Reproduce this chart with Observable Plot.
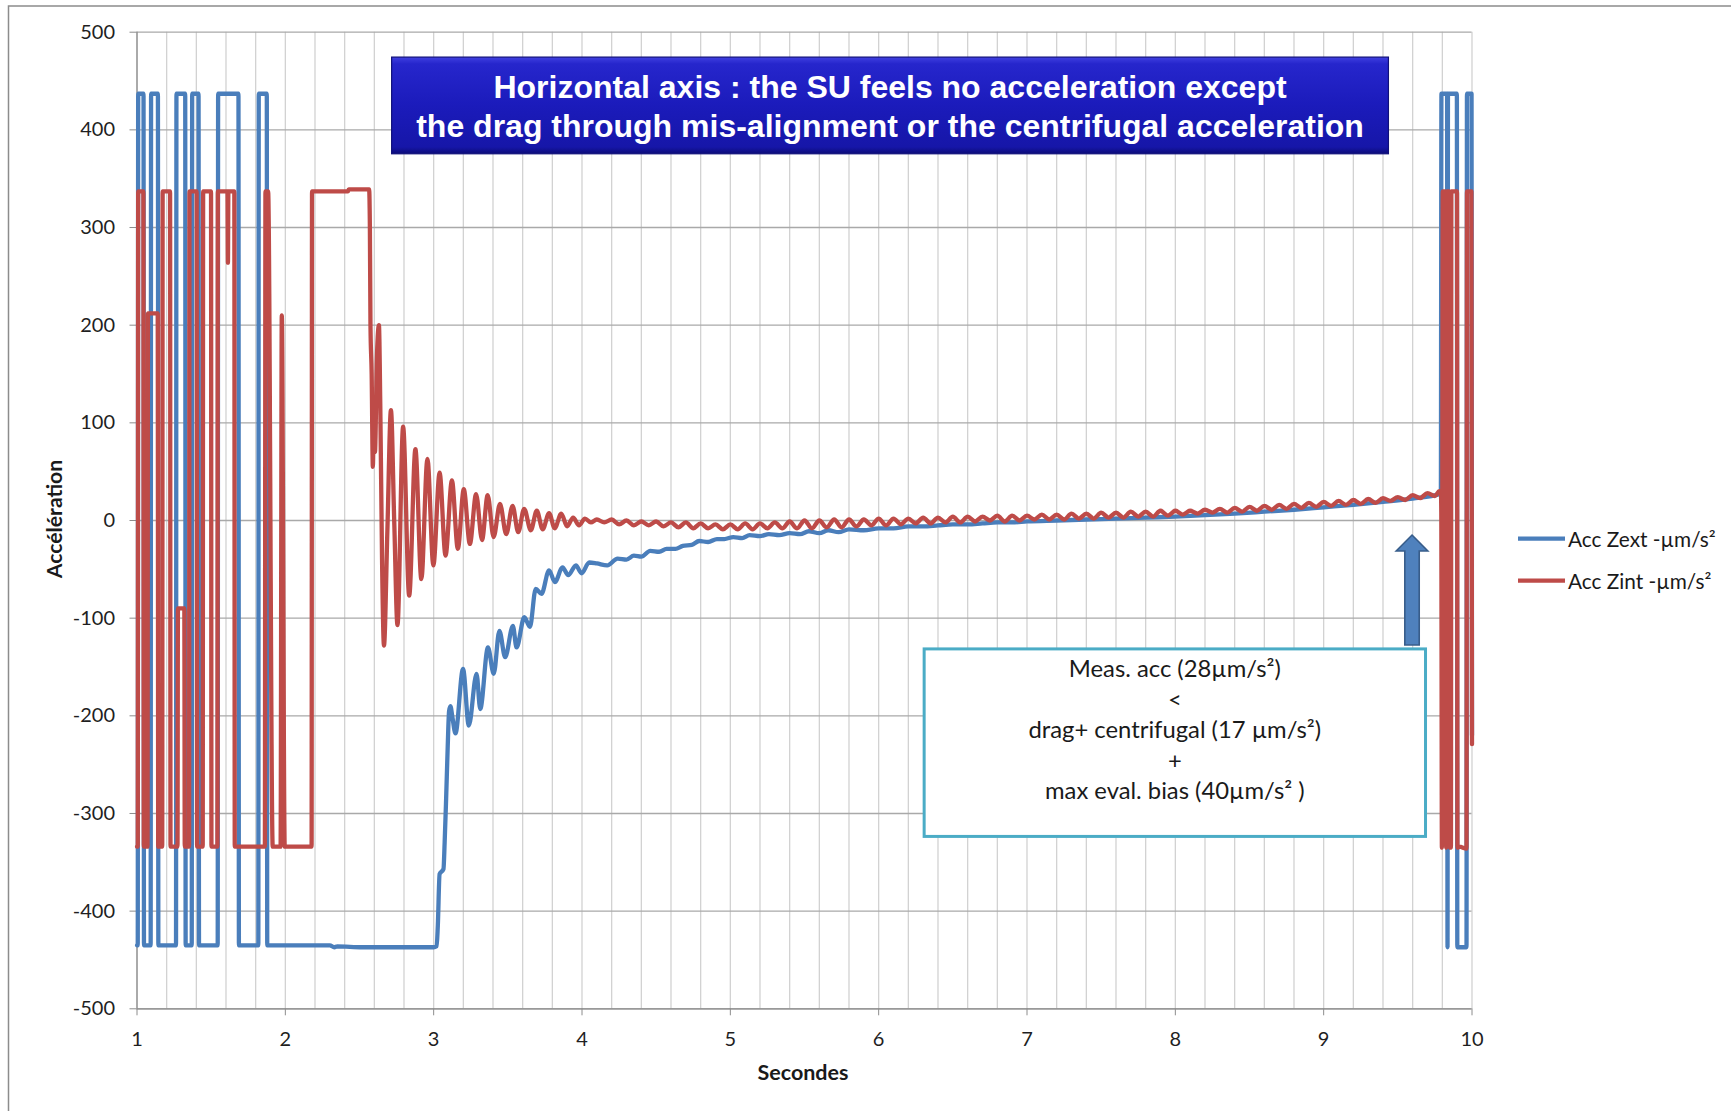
<!DOCTYPE html>
<html>
<head>
<meta charset="utf-8">
<script src="https://cdn.jsdelivr.net/npm/d3@7"></script>
<script src="https://cdn.jsdelivr.net/npm/@observablehq/plot@0.6"></script>
<style>
  html, body { margin: 0; padding: 0; background: #ffffff; }
  #chart svg { display: block; }
</style>
</head>
<body>
<div id="chart"></div>
<script>
// ---------- DATA ----------
const seriesNames = ["Acc Zext -µm/s²", "Acc Zint -µm/s²"];
const xTickValues = [1, 2, 3, 4, 5, 6, 7, 8, 9, 10];
const yTickValues = [-500, -400, -300, -200, -100, 0, 100, 200, 300, 400, 500];

// Acc Zext: square-wave switching phase [time s, value µm/s²]
const zextSwitching = [
  [1.000,-435],[1.005,-435],[1.008,437],[1.044,437],[1.047,-435],[1.092,-435],[1.095,437],
  [1.141,437],[1.144,-435],[1.263,-435],[1.266,437],[1.325,437],[1.328,-435],[1.369,-435],
  [1.372,437],[1.415,437],[1.418,-435],[1.544,-435],[1.547,437],[1.684,437],[1.687,-435],
  [1.818,-435],[1.821,437],[1.875,437],[1.878,-435],[2.300,-435],[2.330,-437],[2.350,-436],
  [2.520,-437],[3.000,-437],[3.020,-436]
];
// Acc Zext: recovery after release
const zextRecovery = [
  [3.028,-415],[3.040,-362],[3.066,-357],[3.074,-330],[3.084,-285],[3.094,-235],[3.104,-195],
  [3.113,-190],[3.125,-200],[3.147,-218],[3.198,-152],[3.237,-210],[3.289,-157],[3.314,-193],
  [3.366,-130],[3.405,-157],[3.443,-113],[3.482,-140],[3.534,-108],[3.559,-130],[3.611,-99],
  [3.649,-109],[3.688,-70],[3.727,-75],[3.778,-51],[3.817,-63],[3.869,-48],[3.907,-56],
  [3.959,-46],[3.997,-54],[4.049,-43]
];
// Acc Zext: slow drift
const zextTail = [
  [4.10,-44],[4.17,-46],[4.24,-39],[4.30,-40],[4.35,-36],[4.40,-37],[4.46,-31],[4.52,-32],
  [4.57,-29],[4.63,-29],[4.68,-26],[4.74,-25],[4.79,-21],[4.85,-22],[4.91,-19],[4.96,-19],
  [5.02,-17],[5.08,-18],[5.13,-15],[5.20,-16],[5.26,-14],[5.33,-15],[5.40,-13],[5.47,-14],
  [5.53,-11],[5.60,-13],[5.66,-10],[5.73,-12],[5.80,-9],[5.90,-10],[6.00,-8],[6.10,-8],
  [6.20,-6],[6.30,-6],[6.40,-5],[6.50,-4],[6.60,-4],[6.70,-3],[6.80,-2],[6.90,-2],[7.00,-1],
  [7.20,0],[7.40,1],[7.60,2],[7.80,3],[8.00,4],[8.20,5.5],[8.40,7],[8.60,9],[8.80,11],
  [9.00,13.5],[9.20,16],[9.40,19],[9.60,22.5],[9.78,27]
];
// Acc Zext: final switching
const zextEnd = [
  [9.790,28],[9.794,437],[9.832,437],[9.835,-437],[9.838,437],[9.898,437],[9.901,-437],
  [9.963,-437],[9.966,437],[9.997,437],[10.000,-220]
];

// Acc Zint: square-wave switching phase
const zintSwitching = [
  [1.000,-334],[1.005,-334],[1.008,337],[1.043,337],[1.046,-334],[1.071,-334],[1.074,212],
  [1.140,212],[1.143,-334],[1.170,-334],[1.173,337],[1.223,337],[1.226,-334],[1.273,-334],
  [1.276,-90],[1.319,-90],[1.322,-334],[1.351,-334],[1.354,337],[1.402,337],[1.405,-334],
  [1.443,-334],[1.446,337],[1.499,337],[1.502,-334],[1.542,-334],[1.545,337],[1.610,337],
  [1.613,264],[1.616,337],[1.656,337],[1.659,-334],[1.862,-334],[1.866,337],[1.884,337],
  [1.915,-334],[1.968,-334],[1.976,210],[1.996,-334],[2.177,-334],[2.180,337],[2.422,337],
  [2.427,339],[2.565,339]
];
// Acc Zint: damped ringing
const zintRinging = [
  [2.570,300],[2.574,200],[2.582,150],[2.590,55],[2.598,120],[2.604,70],[2.618,170],
  [2.631,200],[2.640,120],[2.652,-40],[2.665,-128],[2.688,-10],[2.712,113],[2.734,0],
  [2.756,-107],[2.794,96],[2.835,-77],[2.877,73],[2.917,-60],[2.958,63],[2.998,-46],
  [3.040,49],[3.080,-36],[3.123,41],[3.163,-29],[3.203,32],[3.244,-24],[3.286,27],
  [3.326,-20],[3.364,26],[3.404,-17],[3.447,17],[3.489,-14],[3.532,15],[3.570,-12],
  [3.610,12],[3.655,-10],[3.695,10],[3.735,-9],[3.778,7.5],[3.816,-8],[3.860,7],[3.900,-6],
  [3.940,3],[3.980,-5],[4.020,2],[4.060,-2]
];
// Acc Zint: residual wiggle and drift
const zintTail = [
  [4.10,1],[4.15,-2],[4.20,1],[4.25,-4],[4.30,0],[4.35,-5],[4.40,-1],[4.45,-5],[4.50,-1],
  [4.55,-6],[4.60,-2],[4.65,-7],[4.70,-2],[4.75,-8],[4.80,-3],[4.85,-8],[4.90,-4],[4.95,-9],
  [5.00,-4],[5.05,-9],[5.10,-3],[5.15,-9],[5.20,-3],[5.25,-8],[5.30,-2],[5.35,-8],[5.40,-1],
  [5.45,-8],[5.50,0],[5.55,-8],[5.60,0],[5.65,-7],[5.70,1],[5.75,-7],[5.80,1],[5.85,-6],
  [5.90,1],[5.95,-5],[6.00,2],[6.05,-5],[6.10,2],[6.15,-4],[6.20,2],[6.25,-3],[6.30,3],
  [6.35,-3],[6.40,3],[6.45,-2],[6.50,4],[6.55,-2],[6.60,4],[6.65,-1],[6.70,4],[6.75,0],
  [6.80,5],[6.85,-1],[6.90,5],[6.95,0],[7.00,5],[7.05,1],[7.10,6],[7.15,1],[7.20,6],[7.25,1],
  [7.30,7],[7.35,2],[7.40,7],[7.45,2],[7.50,8],[7.55,3],[7.60,8],[7.65,3],[7.70,9],[7.75,4],
  [7.80,9],[7.85,4],[7.90,10],[7.95,5],[8.00,10],[8.05,6],[8.10,10],[8.15,7],[8.20,11],
  [8.25,8],[8.30,12],[8.35,8],[8.40,13],[8.45,9],[8.50,14],[8.55,10],[8.60,15],[8.65,11],
  [8.70,16],[8.75,12],[8.80,17],[8.85,13],[8.90,18],[8.95,14],[9.00,19],[9.05,15],[9.10,20],
  [9.15,16],[9.20,21],[9.25,17],[9.30,22],[9.35,18],[9.40,23],[9.45,20],[9.50,24],[9.55,21],
  [9.60,26],[9.65,23],[9.70,28],[9.75,25],[9.78,30]
];
// Acc Zint: final switching
const zintEnd = [
  [9.790,30],[9.793,8],[9.797,-335],[9.803,337],[9.820,337],[9.826,-335],[9.832,337],
  [9.845,337],[9.851,-335],[9.858,-335],[9.861,337],[9.899,337],[9.902,-335],[9.915,-334],
  [9.963,-336],[9.966,337],[9.996,337],[10.000,-229]
];

// Annotation texts
const titleLines = [
  "Horizontal axis : the SU feels no acceleration except",
  "the drag through mis-alignment or the centrifugal acceleration"
];
const noteLines = [
  "Meas. acc (28µm/s²)",
  "<",
  "drag+ centrifugal (17 µm/s²)",
  "+",
  "max eval. bias (40µm/s² )"
];

// ---------- LAYOUT / STYLE ----------
const W = 1731, H = 1111;
const colors = ["#4a7ebb", "#be4b48"];
const titleBox = {t1: 2.72, t2: 9.44, v1: 474, v2: 375};
const noteBox = {t1: 6.31, t2: 9.69, v1: -132, v2: -324};
const arrowAnchor = {t: 9.599, tip: -15.4, headBase: -31.7, tail: -128};

const toRows = (pairs) => pairs.map(([t, v]) => ({t, v}));
const zext = toRows([...zextSwitching, ...zextRecovery, ...zextTail, ...zextEnd]);
const zint = toRows([...zintSwitching, ...zintRinging, ...zintTail, ...zintEnd]);

const xGrid = d3.range(0, 46).map(i => 1 + i * 0.2);

const lineOpts = {x: "t", y: "v", strokeWidth: 4.3, curve: "monotone-x",
                  strokeLinejoin: "round", strokeLinecap: "round"};

const chart = Plot.plot({
  width: W,
  height: H,
  marginLeft: 136.5,
  marginRight: 259.5,
  marginTop: 31.7,
  marginBottom: 102.7,
  x: {domain: [1, 10]},
  y: {domain: [-500, 500]},
  style: {fontFamily: "Lato, sans-serif", fontSize: "20px", color: "#1f1f1f", background: "#ffffff"},
  marks: [
    Plot.gridX({ticks: xGrid, stroke: "#d2d2d2", strokeOpacity: 1, strokeWidth: 1.3}),
    Plot.gridY({ticks: yTickValues, stroke: "#a9a9a9", strokeOpacity: 1, strokeWidth: 1.3}),
    Plot.ruleY([-500], {stroke: "#8c8c8c", strokeWidth: 1.3}),
    Plot.ruleX([1], {stroke: "#8c8c8c", strokeWidth: 1.3}),
    Plot.axisY({ticks: yTickValues, tickSize: 7, tickPadding: 15, stroke: "#8c8c8c", fill: "#1f1f1f",
                label: null, tickFormat: (d) => String(d)}),
    Plot.axisX({ticks: xTickValues, tickSize: 7, tickPadding: 16, stroke: "#8c8c8c", fill: "#1f1f1f",
                label: null, tickFormat: (d) => String(d)}),
    Plot.line(zext, {...lineOpts, stroke: colors[0]}),
    Plot.line(zint, {...lineOpts, stroke: colors[1]})
  ]
});

document.getElementById("chart").appendChild(chart);

// ---------- OVERLAYS (positioned through the chart's scales) ----------
const sx = chart.scale("x"), sy = chart.scale("y");
const X = (t) => sx.apply(t), Y = (v) => sy.apply(v);
const svg = d3.select(chart);

// outer chart-area border
svg.append("rect").attr("x", 8.5).attr("y", 6).attr("width", 1800).attr("height", 1300)
  .attr("fill", "none").attr("stroke", "#8c8c8c").attr("stroke-width", 1.5);

const defs = svg.append("defs");
const g = defs.append("linearGradient").attr("id", "titleFill").attr("x1", 0).attr("y1", 0).attr("x2", 0).attr("y2", 1);
g.append("stop").attr("offset", "0%").attr("stop-color", "#4040e0");
g.append("stop").attr("offset", "7%").attr("stop-color", "#2626cc");
g.append("stop").attr("offset", "50%").attr("stop-color", "#1b1bbb");
g.append("stop").attr("offset", "93%").attr("stop-color", "#1616a8");
g.append("stop").attr("offset", "100%").attr("stop-color", "#0c0c78");

// title box
const tbx = X(titleBox.t1), tby = Y(titleBox.v1);
const tbw = X(titleBox.t2) - tbx, tbh = Y(titleBox.v2) - tby;
svg.append("rect").attr("x", tbx).attr("y", tby).attr("width", tbw).attr("height", tbh)
  .attr("fill", "url(#titleFill)").attr("stroke", "#10107a").attr("stroke-width", 1.2);
const tt = svg.append("text").attr("text-anchor", "middle")
  .attr("font-family", "'Liberation Sans', Arial, sans-serif").attr("font-weight", "bold")
  .attr("font-size", 32).attr("fill", "#ffffff");
titleLines.forEach((s, i) => {
  tt.append("tspan").attr("x", tbx + tbw / 2).attr("y", tby + 41 + i * 39).text(s);
});

// note box
const nbx = X(noteBox.t1), nby = Y(noteBox.v1);
const nbw = X(noteBox.t2) - nbx, nbh = Y(noteBox.v2) - nby;
svg.append("rect").attr("x", nbx).attr("y", nby).attr("width", nbw).attr("height", nbh)
  .attr("fill", "#ffffff").attr("stroke", "#4bacc6").attr("stroke-width", 3);
const nt = svg.append("text").attr("text-anchor", "middle")
  .attr("font-family", "Lato, sans-serif").attr("font-size", 23.8).attr("fill", "#1a1a1a");
noteLines.forEach((s, i) => {
  nt.append("tspan").attr("x", nbx + nbw / 2).attr("y", nby + 28 + i * 30.6).text(s);
});

// block arrow
const ax = X(arrowAnchor.t), aTip = Y(arrowAnchor.tip), aHead = Y(arrowAnchor.headBase), aTail = Y(arrowAnchor.tail);
const hw = 15.8, sw = 7.2;
const pts = [[ax, aTip], [ax + hw, aHead], [ax + sw, aHead], [ax + sw, aTail],
             [ax - sw, aTail], [ax - sw, aHead], [ax - hw, aHead]];
svg.append("polygon").attr("points", pts.map(p => p.join(",")).join(" "))
  .attr("fill", "#4f81bd").attr("stroke", "#385d8a").attr("stroke-width", 1.6)
  .attr("stroke-linejoin", "miter");

// axis titles
svg.append("text").attr("transform", "translate(62,519) rotate(-90)").attr("text-anchor", "middle")
  .attr("font-family", "Lato, sans-serif").attr("font-weight", "bold").attr("font-size", 21.2)
  .attr("fill", "#1a1a1a").text("Accélération");
svg.append("text").attr("x", (X(1) + X(10)) / 2 - 1).attr("y", 1080).attr("text-anchor", "middle")
  .attr("font-family", "Lato, sans-serif").attr("font-weight", "bold").attr("font-size", 21.5)
  .attr("fill", "#1a1a1a").text("Secondes");

// legend
seriesNames.forEach((name, i) => {
  const ly = 538.7 + i * 42;
  svg.append("line").attr("x1", 1518).attr("x2", 1565).attr("y1", ly).attr("y2", ly)
    .attr("stroke", colors[i]).attr("stroke-width", 4.3);
  svg.append("text").attr("x", 1568).attr("y", ly + 7.8).attr("text-anchor", "start")
    .attr("font-family", "Lato, sans-serif").attr("font-size", 20.8).attr("fill", "#1a1a1a").text(name);
});
</script>
</body>
</html>
